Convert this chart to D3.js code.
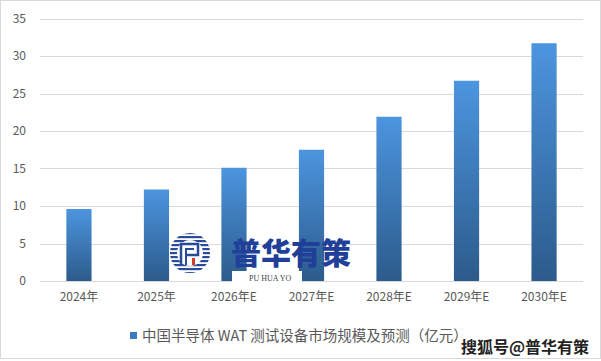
<!DOCTYPE html>
<html><head><meta charset="utf-8">
<script src="https://cdn.jsdelivr.net/npm/d3@7/dist/d3.min.js"></script>
<style>body{margin:0;background:#fff}svg{display:block}</style>
</head><body>
<script>
const categories = ["2024年","2025年","2026年E","2027年E","2028年E","2029年E","2030年E"];
const values = [9.6, 12.2, 15.1, 17.5, 21.9, 26.7, 31.7];
const yTicks = [0,5,10,15,20,25,30,35];
const seriesName = "中国半导体 WAT 测试设备市场规模及预测（亿元）";

const W = 601, H = 361;
const m = {l: 40, r: 18, t: 18, b: 80};
const svg = d3.select("body").append("svg").attr("width", W).attr("height", H);
const font = "'Microsoft YaHei','Noto Sans CJK SC','Noto Sans',sans-serif";

svg.append("rect").attr("x",0.5).attr("y",0.5).attr("width",W-1).attr("height",H-3)
  .attr("fill","#fff").attr("stroke","#d9d9d9");

const defs = svg.append("defs");
const g1 = defs.append("linearGradient").attr("id","bg").attr("x1",0).attr("y1",0).attr("x2",0).attr("y2",1);
g1.append("stop").attr("offset","0%").attr("stop-color","#4c95df");
g1.append("stop").attr("offset","100%").attr("stop-color","#2c5b8b");

const x = d3.scaleBand().domain(categories).range([m.l, 583]).paddingInner(0.675).paddingOuter(0.34);
const y = d3.scaleLinear().domain([0,35]).range([281, 18.5]);

const grid = svg.append("g");
grid.selectAll("line").data(yTicks).join("line")
  .attr("x1", m.l).attr("x2", 583)
  .attr("y1", d => Math.round(y(d))+0.5).attr("y2", d => Math.round(y(d))+0.5)
  .attr("stroke", "#d9d9d9").attr("stroke-width",1);

const yAxis = d3.axisLeft(y).tickValues(yTicks).tickSize(0).tickPadding(0);
const ya = svg.append("g").attr("transform","translate(26,0)").call(yAxis);
ya.select(".domain").remove();
ya.selectAll("text").attr("fill","#595959").style("font-family",font).style("font-size","12px");

const xAxis = d3.axisBottom(x).tickSize(0).tickPadding(0);
const xa = svg.append("g").attr("transform","translate(0,292)").call(xAxis);
xa.select(".domain").remove();
xa.selectAll("text").attr("fill","#595959").style("font-family",font).style("font-size","12px");

svg.append("g").selectAll("rect").data(values).join("rect")
  .attr("x",(d,i)=>x(categories[i])).attr("width",x.bandwidth())
  .attr("y",d=>y(d)).attr("height",d=>y(0)-y(d))
  .attr("fill","url(#bg)");

// logo watermark
const logo = svg.append("g");
const cx = 190, cy = 253, r = 20;
const cp = defs.append("clipPath").attr("id","cc");
cp.append("circle").attr("cx",cx).attr("cy",cy).attr("r",r);
logo.append("circle").attr("cx",cx).attr("cy",cy).attr("r",r+1).attr("fill","#fff");
const stripes = logo.append("g").attr("clip-path","url(#cc)");
d3.range(-20,21,4).forEach(o=>{
  stripes.append("rect").attr("x",cx-r).attr("y",cy+o-1).attr("width",2*r).attr("height",2.2).attr("fill","#2a4a9a");
});
logo.append("circle").attr("cx",cx).attr("cy",cy).attr("r",13).attr("fill","#fff");
logo.append("path").attr("d",`M${cx-9},${cy+12} V${cy-9} H${cx+8} V${cy+2} H${cx-3}`)
  .attr("fill","none").attr("stroke","#2a4a9a").attr("stroke-width",2.5);
logo.append("path").attr("d",`M${cx-4},${cy+12} V${cy-4} H${cx+4}`)
  .attr("fill","none").attr("stroke","#2a4a9a").attr("stroke-width",2);
logo.append("rect").attr("x",cx+2).attr("y",cy+5).attr("width",3).attr("height",7).attr("fill","#d83a2a");
logo.append("text").attr("x",231).attr("y",264).text("普华有策")
  .attr("fill","#1f3f98").style("font-family","'Noto Sans CJK SC',sans-serif").style("font-weight","900").style("font-size","30px");
logo.append("rect").attr("x",232).attr("y",271).attr("width",70).attr("height",12).attr("fill","#fff");
logo.append("text").attr("x",249).attr("y",281).text("PU HUA YO")
  .attr("fill","#444").style("font-family","'Liberation Serif',serif").style("font-size","8px");

// legend
svg.append("rect").attr("x",130).attr("y",332).attr("width",7).attr("height",7).attr("fill","#3c78bf");
svg.append("text").attr("x",142).attr("y",341).text(seriesName)
  .attr("fill","#595959").style("font-family",font).style("font-size","14.5px");

// corner watermark
svg.append("text").attr("x",461).attr("y",353).text("搜狐号@普华有策")
  .attr("fill","#222").attr("stroke","#fff").attr("stroke-width",3).attr("paint-order","stroke")
  .style("font-family","'Noto Sans CJK SC',sans-serif").style("font-weight","bold").style("font-size","16px");
</script>
</body></html>
